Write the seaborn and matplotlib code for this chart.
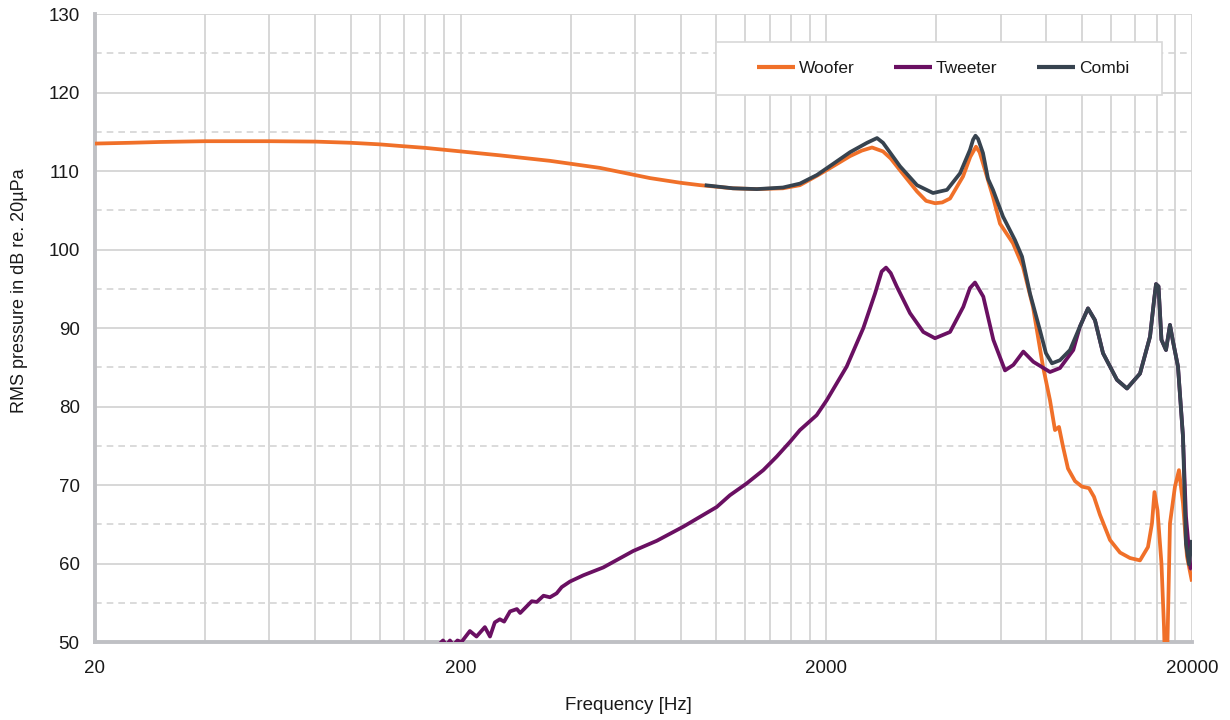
import numpy as np
import pandas as pd
import matplotlib
matplotlib.use("Agg")
import matplotlib.pyplot as plt
import seaborn as sns
from matplotlib.ticker import FixedLocator, FixedFormatter, NullFormatter
from matplotlib.patches import Rectangle

# --- measured responses (frequency in Hz, level in dB re. 20 µPa) ---
woofer_freq = [20, 25, 30, 40, 50, 60, 80, 100, 120, 136, 160, 200, 256, 351, 481, 659, 800,
               903, 1111, 1292, 1522, 1694, 1886, 2086, 2322, 2500, 2667, 2858, 3000,
               3181, 3540, 3750, 3965, 4150, 4359, 4729, 4950, 5132, 5250, 5363, 5713,
               5970, 6478, 6900, 7348, 7826, 8179, 8440, 8656, 8877, 9160, 9574, 10005,
               10457, 10790, 11205, 11934, 12710, 13537, 14417, 15158, 15544, 15792,
               16093, 16502, 16765, 16923, 17138, 17410, 17966, 18425, 18895, 19379, 20000]
woofer_db = [113.5, 113.6, 113.7, 113.8, 113.8, 113.8, 113.75, 113.6, 113.4, 113.2, 112.95,
             112.5, 112.0, 111.3, 110.4, 109.1, 108.5, 108.2, 107.8, 107.7, 107.8, 108.2,
             109.4, 110.6, 111.9, 112.6, 113.0, 112.5, 111.6, 110.1, 107.4, 106.2, 105.9,
             106.0, 106.5, 109.3, 111.8, 113.1, 112.4, 111.0, 106.7, 103.3, 100.8, 97.8,
             92.7, 85.1, 80.8, 77.0, 77.4, 74.9, 72.1, 70.5, 69.8, 69.6, 68.5, 66.2, 63.0,
             61.4, 60.7, 60.4, 62.1, 65.1, 69.1, 66.8, 60.0, 52.0, 45.0, 50.0, 65.1, 69.8,
             71.9, 67.7, 60.9, 57.7]

tweeter_freq = [160, 179, 183, 187, 191, 196, 201, 212, 221, 233, 240.6, 248, 256, 263,
                273, 285, 291, 313, 323, 337, 351, 366, 378, 398, 433, 491, 593, 688, 813,
                1003, 1090, 1211, 1345, 1462, 1591, 1694, 1882, 2005, 2274, 2525, 2718,
                2834, 2913, 3000, 3116, 3387, 3683, 3965, 4359, 4738, 4942, 5101, 5374,
                5725, 6162, 6493, 6915, 7364, 8179, 8710, 9472, 9878, 10390, 10857, 11420,
                12472, 13282, 14417, 15355, 15747, 15947, 16198, 16502, 16980, 17410,
                17742, 18311, 18895, 19257, 19815, 20000]
tweeter_db = [48.0, 50.2, 49.6, 50.2, 49.6, 50.2, 50.0, 51.4, 50.7, 51.9, 50.7, 52.5, 52.9,
              52.6, 53.9, 54.2, 53.7, 55.2, 55.1, 55.9, 55.7, 56.2, 57.0, 57.7, 58.5, 59.5,
              61.6, 62.9, 64.7, 67.2, 68.7, 70.2, 71.9, 73.6, 75.5, 77.0, 78.9, 80.8, 85.1,
              90.0, 94.4, 97.2, 97.7, 97.0, 95.3, 91.9, 89.5, 88.7, 89.5, 92.7, 95.1, 95.8,
              94.0, 88.5, 84.6, 85.3, 87.0, 85.7, 84.4, 84.9, 87.2, 90.2, 92.5, 91.0, 86.8,
              83.4, 82.3, 84.2, 88.9, 93.5, 95.6, 95.3, 88.5, 87.2, 90.4, 88.3, 85.1, 76.2,
              66.0, 59.4, 59.3]

combi_freq = [930, 1111, 1292, 1522, 1694, 1886, 2086, 2322, 2585, 2752, 2858, 3181, 3540,
              3916, 4276, 4641, 4942, 5040, 5116, 5200, 5363, 5537, 5713, 6084, 6561, 6858,
              7211, 7680, 7973, 8281, 8710, 9277, 9878, 10390, 10857, 11420, 12472, 13282,
              14417, 15355, 15747, 15947, 16198, 16502, 16980, 17410, 17742, 18311, 18895,
              19257, 19626, 20000]
combi_db = [108.2, 107.8, 107.7, 107.9, 108.4, 109.5, 110.9, 112.4, 113.6, 114.2, 113.6,
            110.6, 108.2, 107.2, 107.6, 109.7, 112.7, 114.0, 114.5, 114.1, 112.3, 109.0,
            107.6, 104.2, 101.2, 99.1, 94.4, 89.7, 86.8, 85.5, 85.9, 87.2, 90.2, 92.5, 91.0,
            86.8, 83.4, 82.3, 84.2, 88.9, 93.5, 95.6, 95.3, 88.5, 87.2, 90.4, 88.3, 85.1,
            76.2, 62.5, 59.9, 63.0]

series_names = ["Woofer", "Tweeter", "Combi"]
series_colors = ["#F07029", "#6A1062", "#37434F"]

x_major = [20, 200, 2000, 20000]
x_major_labels = ["20", "200", "2000", "20000"]
y_major = list(range(50, 131, 10))

# --- long-form table for seaborn ---
frames = []
for name, f, v in zip(series_names,
                      [woofer_freq, tweeter_freq, combi_freq],
                      [woofer_db, tweeter_db, combi_db]):
    frames.append(pd.DataFrame({"freq": f, "level": v, "series": name}))
df = pd.concat(frames, ignore_index=True)

sns.set_style("white")
plt.rcParams["font.family"] = ["Liberation Sans", "DejaVu Sans"]

fig = plt.figure(figsize=(12.3, 7.2), dpi=100)
ax = fig.add_axes([0.0772, 0.1083, 0.8919, 0.8722])

grid_col = "#D4D4D4"
axis_col = "#BFC0C4"
text_col = "#1A1A1A"

sns.lineplot(data=df, x="freq", y="level", hue="series", hue_order=series_names,
             palette=dict(zip(series_names, series_colors)), estimator=None, sort=False,
             linewidth=2.7, ax=ax, zorder=3)
for ln in ax.get_lines():
    ln.set_solid_joinstyle("round")
    ln.set_solid_capstyle("butt")

ax.set_xscale("log")
ax.set_xlim(20, 20000)
ax.set_ylim(50, 130)

x_minor = [20 * m * 10 ** n for n in range(3) for m in range(2, 10)]
ax.xaxis.set_major_locator(FixedLocator(x_major))
ax.xaxis.set_major_formatter(FixedFormatter(x_major_labels))
ax.xaxis.set_minor_locator(FixedLocator(x_minor))
ax.xaxis.set_minor_formatter(NullFormatter())
ax.yaxis.set_major_locator(FixedLocator(y_major))
ax.yaxis.set_minor_locator(FixedLocator([y + 5 for y in y_major[:-1]]))

ax.grid(True, which="major", axis="both", color=grid_col, linewidth=1.3, linestyle="-", zorder=0)
ax.grid(True, which="minor", axis="x", color=grid_col, linewidth=1.3, linestyle="-", zorder=0)
ax.grid(True, which="minor", axis="y", color=grid_col, linewidth=1.2, linestyle=(0, (4, 3)), zorder=0)
ax.set_axisbelow(True)

for side in ("top", "right"):
    ax.spines[side].set_visible(False)
for side in ("left", "bottom"):
    ax.spines[side].set_color(axis_col)
    ax.spines[side].set_linewidth(2.8)

ax.tick_params(axis="y", which="major", direction="out", length=6, width=1.2, color=axis_col,
               labelsize=13.5, labelcolor=text_col, pad=5)
ax.tick_params(axis="y", which="minor", length=0)
ax.tick_params(axis="x", which="both", direction="out", length=4, width=1.2, color=axis_col,
               labelsize=13.5, labelcolor=text_col, pad=9)

ax.set_xlabel("Frequency [Hz]", fontsize=13.5, color=text_col)
ax.xaxis.set_label_coords(0.486, -0.088)
ax.set_ylabel("RMS pressure in dB re. 20µPa", fontsize=13, color=text_col)
ax.yaxis.set_label_coords(-0.061, 0.56)

# legend inside a white framed box
box = Rectangle((0.566, 0.871), 0.4067, 0.0845, transform=ax.transAxes,
                facecolor="white", edgecolor="#D8D8D8", linewidth=1.2, zorder=4)
ax.add_patch(box)
handles, labels = ax.get_legend_handles_labels()
leg = ax.legend(handles, labels, ncol=3, loc="center", bbox_to_anchor=(0.773, 0.9132),
                frameon=False, fontsize=12.5, handlelength=2.2, handletextpad=0.2,
                columnspacing=2.3, borderpad=0)
leg.set_zorder(5)
for h in leg.get_lines():
    h.set_linewidth(3)
for t in leg.get_texts():
    t.set_color(text_col)

fig.savefig("out.png", dpi=100)
